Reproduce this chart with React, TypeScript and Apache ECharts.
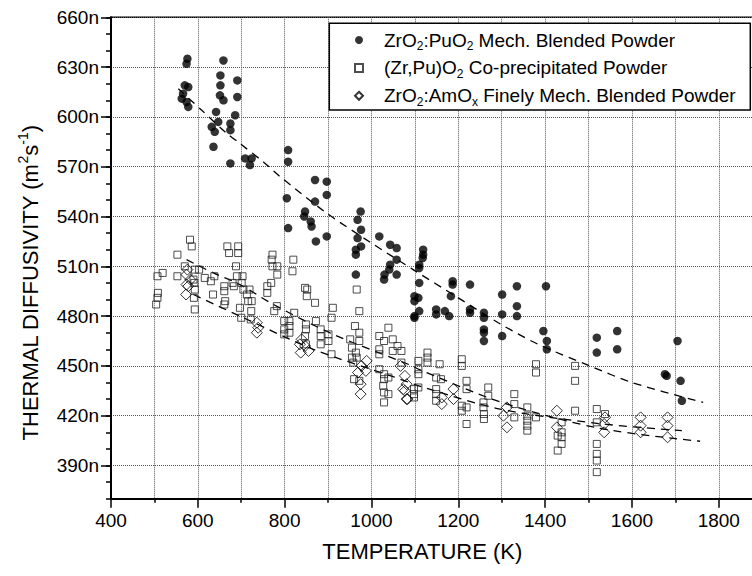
import React, { useEffect, useRef } from "react";
import * as echarts from "echarts";

const FONT = "'Liberation Sans', Arial, Helvetica, sans-serif";

// Values are in units of 1e-9 m^2/s ("n"), temperature in K
const puBlended: number[][] = [
  [574, 632], [576, 635], [570, 619], [578, 618], [566, 614], [563, 611], [574, 609], [578, 606],
  [659, 634], [652, 625], [652, 619], [651, 613], [659, 610], [691, 622], [691, 612],
  [642, 603], [647, 597], [686, 601], [675, 596], [632, 594], [639, 591], [675, 592], [636, 582],
  [675, 572], [709, 575], [724, 575], [720, 571],
  [808, 580], [808, 573], [805, 551], [808, 533], [870, 562], [897, 561], [897, 553], [870, 549],
  [847, 543], [845, 540], [860, 537], [862, 534], [872, 525], [897, 528],
  [975, 543], [968, 538], [976, 532], [968, 527], [976, 522], [964, 520], [964, 517], [964, 505],
  [1018, 528], [1043, 523], [1058, 521], [1058, 514], [1043, 511], [1041, 508], [1058, 505], [1030, 505], [1029, 502],
  [1119, 520], [1119, 517], [1118, 515], [1110, 511], [1110, 509], [1110, 500], [1099, 492], [1108, 491],
  [1099, 489], [1110, 483], [1099, 480], [1099, 479],
  [1187, 501], [1187, 499], [1183, 492], [1227, 499], [1149, 484], [1149, 481], [1169, 483], [1179, 480],
  [1227, 484], [1227, 482],
  [1259, 482], [1259, 479], [1259, 472], [1259, 470], [1259, 465],
  [1301, 493], [1335, 498], [1402, 498], [1335, 486], [1335, 480], [1301, 481], [1301, 468],
  [1396, 471], [1404, 465], [1404, 460],
  [1519, 467], [1566, 471], [1566, 460], [1519, 458], [1705, 465], [1676, 445], [1680, 444],
  [1712, 441], [1715, 429],
];

const coPrecip: number[][] = [
  [504, 487], [507, 491], [508, 494], [507, 504], [519, 506], [553, 517], [553, 504], [570, 510],
  [582, 526], [586, 522], [593, 508], [603, 508], [590, 502], [592, 500], [593, 496], [591, 491], [593, 484],
  [616, 503], [630, 501], [638, 504], [635, 493], [661, 498], [661, 495], [663, 489], [661, 487],
  [668, 522], [672, 518], [693, 522], [693, 518], [688, 510], [680, 500], [683, 498], [690, 504],
  [703, 504], [701, 500], [705, 496], [713, 493], [719, 496], [716, 489], [724, 489], [697, 485],
  [723, 483], [700, 479], [722, 478],
  [772, 517], [770, 514], [772, 510], [783, 510], [783, 505], [820, 514], [818, 507], [769, 500],
  [760, 498], [760, 494], [782, 486], [776, 483], [822, 482],
  [847, 497], [852, 496], [851, 492], [870, 488], [872, 477], [799, 477], [811, 477], [799, 472],
  [811, 474], [799, 469], [811, 470], [849, 475], [849, 472], [847, 468], [849, 463], [883, 472],
  [883, 468], [883, 463], [901, 469], [901, 465], [908, 457], [911, 485], [908, 479],
  [966, 496], [972, 483], [962, 474], [972, 470], [951, 466], [972, 465], [955, 461], [964, 458],
  [955, 455], [966, 455], [958, 452], [960, 442], [972, 441],
  [1039, 473], [1018, 468], [1029, 465], [1018, 460], [1018, 457], [1049, 466], [1049, 459], [1060, 462],
  [1069, 459], [1069, 452], [1018, 448], [1029, 445], [1029, 442], [1027, 438], [1029, 434], [1039, 433],
  [1029, 428], [1039, 443],
  [1108, 453], [1108, 448], [1108, 445], [1129, 458], [1129, 455], [1129, 452], [1108, 437], [1098, 436],
  [1098, 433], [1098, 431],
  [1157, 451], [1149, 443], [1160, 442], [1149, 436], [1149, 433], [1149, 429],
  [1208, 454], [1208, 450], [1219, 441], [1219, 436], [1208, 426], [1208, 423], [1219, 425], [1219, 415],
  [1269, 437], [1269, 432], [1258, 428], [1258, 425], [1259, 421], [1259, 418],
  [1329, 433], [1329, 427], [1329, 419], [1359, 425], [1359, 420], [1359, 417], [1359, 414], [1359, 411],
  [1379, 451], [1379, 446], [1379, 419],
  [1438, 416], [1438, 410], [1438, 407], [1438, 403], [1429, 408], [1429, 399],
  [1469, 450], [1469, 441], [1469, 423],
  [1519, 424], [1519, 416], [1519, 403], [1519, 397], [1519, 393], [1519, 386], [1538, 421],
];

const amBlended: number[][] = [
  [574, 505], [574, 499], [578, 498], [573, 493], [576, 508], [583, 502],
  [736, 476], [739, 473], [736, 470],
  [839, 466], [835, 463], [847, 462], [837, 458], [855, 459],
  [989, 453], [977, 450], [969, 446], [987, 447], [975, 439], [975, 433],
  [1067, 450], [1077, 444], [1081, 439], [1077, 435], [1081, 430], [1073, 436], [1083, 430],
  [1162, 431], [1162, 427], [1189, 436], [1189, 430],
  [1312, 425], [1304, 420], [1312, 413],
  [1427, 423], [1427, 413],
  [1538, 419], [1536, 415], [1536, 410],
  [1620, 419], [1620, 414], [1620, 410],
  [1682, 419], [1682, 414], [1682, 407],
];

// dashed fit curves
const fitPu: number[][] = [
  [555, 617], [609, 604], [667, 590], [697, 584], [755, 572], [785, 565], [897, 542], [1000, 524],
  [1096, 508], [1200, 491], [1292, 476], [1384, 463], [1503, 450], [1600, 440], [1764, 428],
];
const fitUpper: number[][] = [
  [574, 514], [636, 506], [697, 499], [774, 487], [912, 469], [1089, 450.5], [1112, 447.6],
  [1300, 428], [1526, 412.4], [1757, 404.6],
];
const fitLower: number[][] = [
  [590, 493], [697, 480], [866, 460], [1050, 443.5], [1127, 436.5], [1296, 424], [1519, 415.4], [1715, 411],
];

const yMajorTicks = [390, 420, 450, 480, 510, 540, 570, 600, 630, 660];

const seriesNames = [
  "ZrO2:PuO2 Mech. Blended Powder",
  "(Zr,Pu)O2 Co-precipitated Powder",
  "ZrO2:AmOx Finely Mech. Blended Powder",
];
const legendRich: Record<string, string> = {
  [seriesNames[0]]: "{t|ZrO}{sub|2}{t|:PuO}{sub|2}{t| Mech. Blended Powder}",
  [seriesNames[1]]: "{t|(Zr,Pu)O}{sub|2}{t| Co-precipitated Powder}",
  [seriesNames[2]]: "{t|ZrO}{sub|2}{t|:AmO}{sub|x}{t| Finely Mech. Blended Powder}",
};

export default function App() {
  const ref = useRef<HTMLDivElement>(null);
  useEffect(() => {
    if (!ref.current) return;
    const chart = echarts.init(ref.current, null, { renderer: "svg" });
    const fitStyle = { color: "#000", width: 1.3, type: [8, 6] as any };
    const option: any = {
      animation: false,
      backgroundColor: "#fff",
      grid: {
        left: 111,
        top: 17.3,
        bottom: 77.3,
        right: -53.6,
        outerBoundsMode: "none",
        containLabel: false,
        show: true,
        borderColor: "#000",
        borderWidth: 1.5,
        backgroundColor: "#fff",
      },
      graphic: [
        {
          type: "rect",
          z: 5,
          shape: { x: 329.3, y: 23.3, width: 421, height: 86.7 },
          style: { fill: "#fff", stroke: "#000", lineWidth: 1.5 },
        },
      ],
      legend: {
        z: 6,
        data: seriesNames,
        orient: "vertical",
        left: 354,
        top: 30.5,
        padding: 0,
        itemWidth: 8,
        itemHeight: 8,
        itemGap: 6.4,
        symbolKeepAspect: true,
        formatter: (name: string) => legendRich[name] || name,
        textStyle: {
          fontFamily: FONT,
          fontSize: 19,
          color: "#000",
          padding: [0, 0, 0, 16],
          rich: {
            t: { fontFamily: FONT, fontSize: 19, color: "#000", lineHeight: 24 },
            sub: { fontFamily: FONT, fontSize: 12, color: "#000", lineHeight: 11, verticalAlign: "bottom" },
          },
        },
      },
      xAxis: {
        type: "value",
        min: 400,
        max: 2000,
        interval: 200,
        axisLine: { show: true, onZero: false, lineStyle: { color: "#000", width: 2 } },
        axisTick: { show: true, length: 9, lineStyle: { color: "#000", width: 1.5 } },
        minorTick: { show: true, splitNumber: 2, length: 4, lineStyle: { color: "#000", width: 1.5 } },
        splitLine: { show: true, lineStyle: { color: "#555", type: "dotted", width: 1 } },
        minorSplitLine: { show: true, lineStyle: { color: "#555", type: "dotted", width: 1 } },
        axisLabel: {
          formatter: (v: number) => (v <= 1800 ? String(v) : ""),
          fontSize: 19,
          fontFamily: FONT,
          color: "#000",
          margin: 12,
        },
        name: "TEMPERATURE (K)",
        nameLocation: "middle",
        nameGap: 42,
        nameTextStyle: { fontSize: 22, fontFamily: FONT, color: "#000", padding: [0, 72, 0, 0] },
      },
      yAxis: [
        {
          type: "value",
          min: 370,
          max: 660,
          interval: 10,
          axisLine: { show: true, onZero: false, lineStyle: { color: "#000", width: 2 } },
          axisTick: { show: true, length: 5, lineStyle: { color: "#000", width: 1.5 } },
          splitLine: {
            show: true,
            lineStyle: { color: ["rgba(0,0,0,0)", "rgba(0,0,0,0)", "#555"], type: "dotted", width: 1 },
          },
          axisLabel: {
            formatter: (v: number) => ((v - 390) % 30 === 0 && v >= 390 ? v + "n" : ""),
            fontSize: 19,
            fontFamily: FONT,
            color: "#000",
            margin: 12,
          },
          name: "{t|THERMAL DIFFUSIVITY (m}{sup|2}{t|s}{sup|-1}{t|)}",
          nameLocation: "middle",
          nameGap: 67,
          nameTextStyle: {
            fontFamily: FONT,
            color: "#000",
            fontSize: 22,
            padding: [0, 50, 0, 0],
            rich: {
              t: { fontFamily: FONT, fontSize: 22, color: "#000", lineHeight: 28 },
              sup: { fontFamily: FONT, fontSize: 14, color: "#000", lineHeight: 13, verticalAlign: "top" },
            },
          },
        },
        {
          type: "value",
          min: 370,
          max: 660,
          position: "left",
          axisLine: { show: false },
          axisTick: { show: true, length: 10, customValues: yMajorTicks, lineStyle: { color: "#000", width: 1.5 } },
          axisLabel: { show: false },
          splitLine: { show: false },
        },
      ],
      series: [
        {
          name: seriesNames[0],
          type: "scatter",
          data: puBlended,
          symbol: "circle",
          symbolSize: 8.5,
          itemStyle: { color: "#000" },
          z: 3,
        },
        {
          name: seriesNames[1],
          type: "scatter",
          data: coPrecip,
          symbol: "rect",
          symbolSize: 7,
          itemStyle: { color: "rgba(255,255,255,0)", borderColor: "#222", borderWidth: 1 },
          z: 3,
        },
        {
          name: seriesNames[2],
          type: "scatter",
          data: amBlended,
          symbol: "diamond",
          symbolSize: 11,
          itemStyle: { color: "rgba(255,255,255,0)", borderColor: "#000", borderWidth: 1 },
          z: 3,
        },
        { name: "fitPu", type: "line", data: fitPu, smooth: 0.3, showSymbol: false, lineStyle: fitStyle, z: 2 },
        { name: "fitUpper", type: "line", data: fitUpper, smooth: 0.3, showSymbol: false, lineStyle: fitStyle, z: 2 },
        { name: "fitLower", type: "line", data: fitLower, smooth: 0.3, showSymbol: false, lineStyle: fitStyle, z: 2 },
      ],
    };
    chart.setOption(option);
    return () => chart.dispose();
  }, []);
  return (
    <div
      ref={ref}
      style={{ position: "absolute", left: 0, top: 0, width: 752, height: 576, overflow: "hidden" }}
    />
  );
}
